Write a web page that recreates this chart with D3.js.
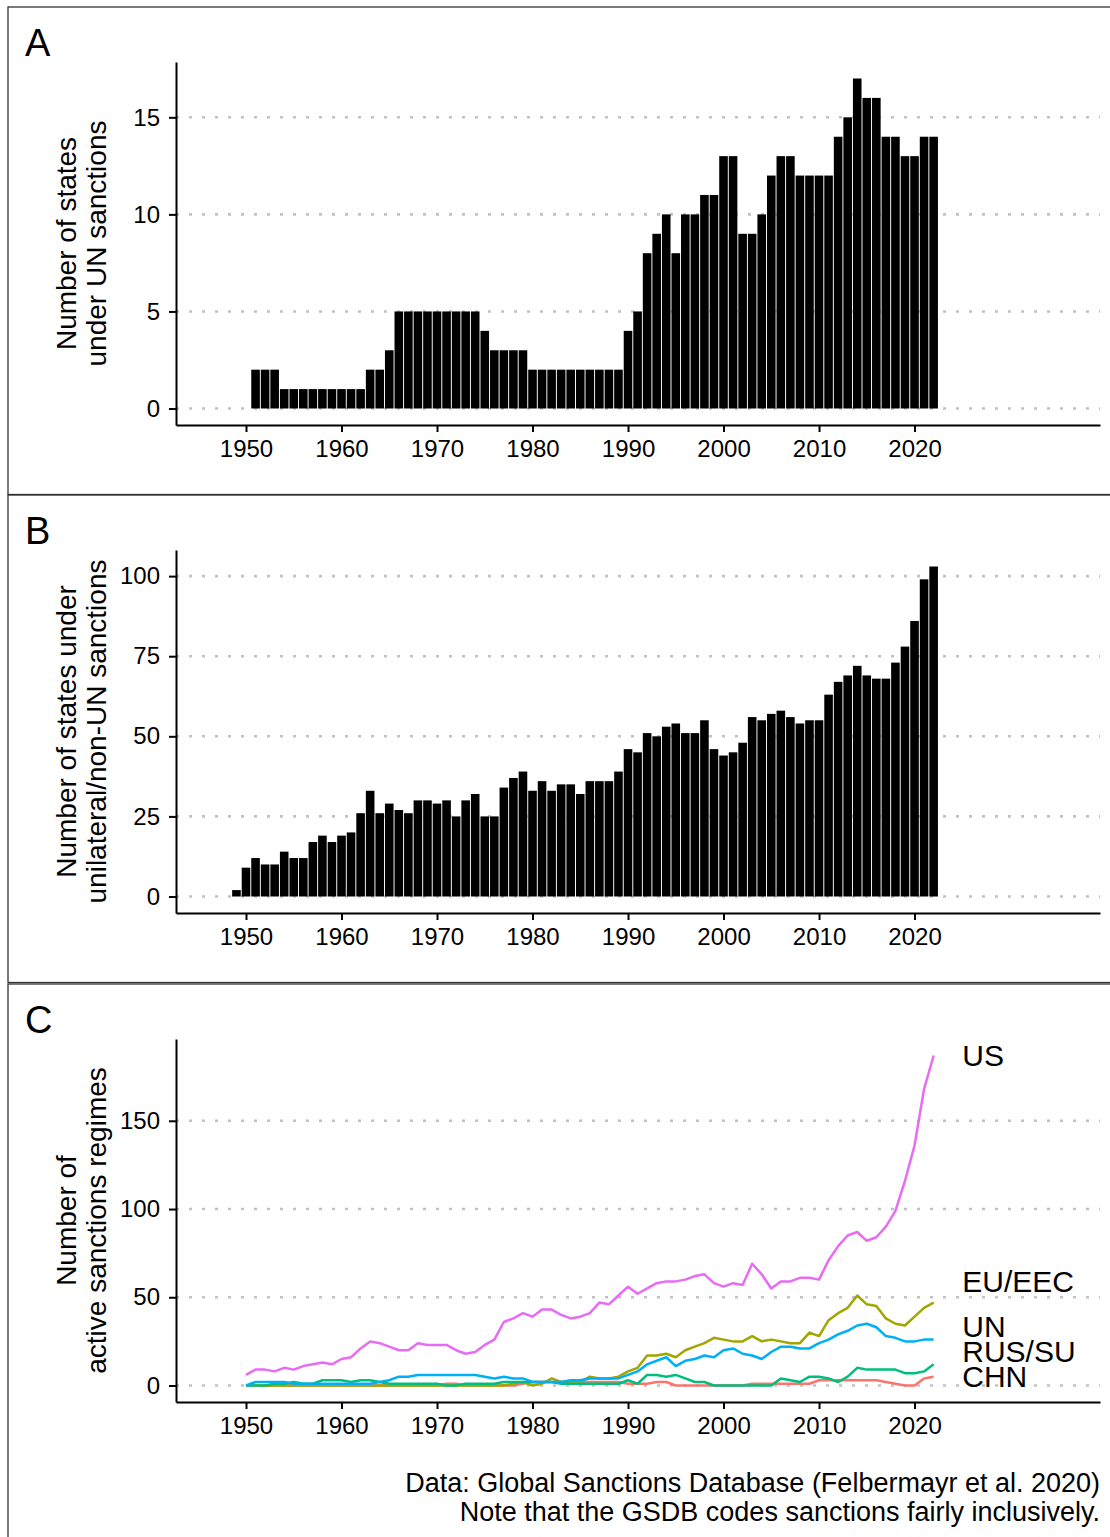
<!DOCTYPE html>
<html>
<head>
<meta charset="utf-8">
<script src="https://cdn.jsdelivr.net/npm/d3@7/dist/d3.min.js"></script>
<style>
  body { margin: 0; background: #fff; }
  text { font-family: "Liberation Sans", Arial, Helvetica, sans-serif; }
</style>
</head>
<body>
<div id="chart"></div>
<script>
// --- data ---------------------------------------------------------------
var yearTicks = [1950, 1960, 1970, 1980, 1990, 2000, 2010, 2020];

// A: states under UN sanctions, from 1951
var firstYearA = 1951;
var unStates = [
  2, 2, 2, 1, 1, 1, 1, 1, 1, 1, 1, 1, 2, 2, 3, 5, 5, 5, 5, 5,
  5, 5, 5, 5, 4, 3, 3, 3, 3, 2, 2, 2, 2, 2, 2, 2, 2, 2, 2, 4,
  5, 8, 9, 10, 8, 10, 10, 11, 11, 13, 13, 9, 9, 10, 12, 13, 13, 12, 12, 12,
  12, 14, 15, 17, 16, 16, 14, 14, 13, 13, 14, 14
];
var ticksA = [0, 5, 10, 15];

// B: states under unilateral / non-UN sanctions, from 1949
var firstYearB = 1949;
var otherStates = [
  2, 9, 12, 10, 10, 14, 12, 12, 17, 19, 17, 19, 20, 26, 33, 26, 29, 27, 26, 30,
  30, 29, 30, 25, 30, 32, 25, 25, 34, 37, 39, 33, 36, 33, 35, 35, 32, 36, 36, 36,
  39, 46, 45, 51, 50, 53, 54, 51, 51, 55, 46, 44, 45, 48, 56, 55, 57, 58, 56, 54,
  55, 55, 63, 67, 69, 72, 69, 68, 68, 73, 78, 86, 99, 103
];
var ticksB = [0, 25, 50, 75, 100];

// C: active sanctions regimes by sender, from 1950
var firstYearC = 1950;
var senders = ["CHN", "EU/EEC", "RUS/SU", "UN", "US"];
var senderColors = ["#F8766D", "#A3A500", "#00BF7D", "#00B0F6", "#E76BF3"];
var regimesCHN = [
  0, 0, 0, 0, 0, 0, 0, 0, 0, 0,
  0, 0, 0, 0, 0, 0, 0, 0, 0, 0,
  0, 1, 1, 0, 0, 0, 0, 0, 0, 1,
  2, 2, 2, 2, 2, 2, 2, 2, 2, 2,
  1, 1, 1, 2, 2, 0, 0, 0, 0, 0,
  0, 0, 0, 1, 1, 1, 1, 1, 1, 1,
  3, 3, 3, 3, 3, 3, 3, 2, 1, 0,
  0, 4, 5
];
var regimesEU = [
  0, 0, 0, 0, 0, 0, 0, 0, 0, 0,
  0, 0, 0, 0, 0, 0, 0, 0, 0, 0,
  0, 0, 0, 0, 0, 0, 0, 0, 1, 2,
  0, 1, 4, 2, 2, 2, 5, 4, 4, 5,
  8, 10, 17, 17, 18, 16, 20, 22, 24, 27,
  26, 25, 25, 28, 25, 26, 25, 24, 24, 30,
  28, 37, 41, 44, 51, 46, 45, 38, 35, 34,
  39, 44, 47
];
var regimesRUS = [
  0, 0, 0, 1, 1, 2, 1, 1, 3, 3,
  3, 2, 3, 3, 2, 1, 1, 1, 1, 1,
  1, 0, 0, 1, 1, 1, 1, 2, 2, 2,
  2, 2, 2, 1, 1, 1, 1, 1, 1, 1,
  3, 1, 6, 6, 5, 6, 4, 2, 2, 0,
  0, 0, 0, 0, 0, 0, 4, 3, 2, 5,
  5, 4, 2, 5, 10, 9, 9, 9, 9, 7,
  7, 8, 12
];
var regimesUN = [
  0, 2, 2, 2, 2, 1, 1, 1, 1, 1,
  1, 1, 1, 1, 2, 3, 5, 5, 6, 6,
  6, 6, 6, 6, 6, 5, 4, 5, 4, 4,
  2, 2, 2, 2, 3, 3, 4, 4, 4, 4,
  6, 8, 12, 14, 16, 11, 14, 15, 17, 16,
  20, 21, 18, 17, 15, 19, 22, 22, 21, 21,
  24, 26, 29, 31, 34, 35, 33, 28, 27, 25,
  25, 26, 26
];
var regimesUS = [
  6, 9, 9, 8, 10, 9, 11, 12, 13, 12,
  15, 16, 21, 25, 24, 22, 20, 20, 24, 23,
  23, 23, 20, 18, 19, 23, 26, 36, 38, 41,
  39, 43, 43, 40, 38, 39, 41, 47, 46, 51,
  56, 52, 55, 58, 59, 59, 60, 62, 63, 58,
  56, 58, 57, 69, 63, 55, 59, 59, 61, 61,
  60, 71, 79, 85, 87, 82, 84, 90, 99, 116,
  136, 168, 187
];
var ticksC = [0, 50, 100, 150];

// --- layout -------------------------------------------------------------
var width = 1110, height = 1537;
var plotLeft = 176, plotRight = 1100, plotHeight = 363;
var panelTops = [7, 495, 984];
var plotOffset = 55;

var svg = d3.select("#chart").append("svg")
    .attr("width", width)
    .attr("height", height)
    .style("display", "block");

svg.append("rect").attr("width", width).attr("height", height).attr("fill", "#fff");

var x = d3.scaleLinear()
    .domain([1942.67, 2039.42])
    .range([plotLeft, plotRight]);

function padded(maxValue) {
  return [-0.05 * maxValue, 1.05 * maxValue];
}

function drawPanel(i, letter, titleLines, yTicks, maxValue) {
  var top = panelTops[i];
  var g = svg.append("g").attr("class", "panel");

  g.append("rect")
      .attr("x", 8)
      .attr("y", top)
      .attr("width", width + 10)
      .attr("height", i < 2 ? 487.5 : height)
      .attr("fill", "none")
      .attr("stroke", "#333")
      .attr("stroke-width", 1.3);

  g.append("text")
      .attr("x", 25)
      .attr("y", top + 49)
      .style("font-size", "38px")
      .text(letter);

  var y0 = top + plotOffset;
  var y = d3.scaleLinear()
      .domain(padded(maxValue))
      .range([y0 + plotHeight, y0]);

  // dotted grid
  g.append("g").selectAll("line")
      .data(yTicks)
    .enter().append("line")
      .attr("x1", plotLeft)
      .attr("x2", plotRight)
      .attr("y1", function(d) { return y(d); })
      .attr("y2", function(d) { return y(d); })
      .attr("stroke", "#c2c2c2")
      .attr("stroke-width", 2.6)
      .attr("stroke-dasharray", "3 10");

  // axis title
  var tg = g.append("text")
      .attr("transform", "translate(76," + (y0 + plotHeight / 2) + ") rotate(-90)")
      .attr("text-anchor", "middle")
      .style("font-size", "28px");
  titleLines.forEach(function(t, k) {
    tg.append("tspan")
        .attr("x", 0)
        .attr("dy", k === 0 ? 0 : 30)
        .text(t);
  });

  return { g: g, y: y, y0: y0 };
}

function drawAxes(p) {
  var yAxis = d3.axisLeft(p.y)
      .tickValues(p.ticks)
      .tickSize(7)
      .tickSizeOuter(0)
      .tickPadding(9);
  var xAxis = d3.axisBottom(x)
      .tickValues(yearTicks)
      .tickFormat(d3.format("d"))
      .tickSize(7)
      .tickSizeOuter(0)
      .tickPadding(8);

  var ya = p.g.append("g")
      .attr("transform", "translate(" + plotLeft + ",0)")
      .call(yAxis);
  var xa = p.g.append("g")
      .attr("transform", "translate(0," + (p.y0 + plotHeight) + ")")
      .call(xAxis);

  [ya, xa].forEach(function(a) {
    a.select(".domain").attr("stroke", "#000").attr("stroke-width", 2);
    a.selectAll(".tick line").attr("stroke", "#000").attr("stroke-width", 2);
    a.selectAll(".tick text")
        .attr("fill", "#000")
        .style("font-size", "24px")
        .style("font-family", "'Liberation Sans', Arial, sans-serif");
  });
}

function drawBars(p, firstYear, values) {
  var bw = (x(1) - x(0)) * 0.9;
  p.g.append("g").selectAll("rect")
      .data(values)
    .enter().append("rect")
      .attr("x", function(d, k) { return x(firstYear + k) - bw / 2; })
      .attr("width", bw)
      .attr("y", function(d) { return p.y(d); })
      .attr("height", function(d) { return p.y(0) - p.y(d); })
      .attr("fill", "#000");
}

// Panel A
var pA = drawPanel(0, "A", ["Number of states", "under UN sanctions"], ticksA, d3.max(unStates));
pA.ticks = ticksA;
drawBars(pA, firstYearA, unStates);
drawAxes(pA);

// Panel B
var pB = drawPanel(1, "B", ["Number of states under", "unilateral/non-UN sanctions"], ticksB, d3.max(otherStates));
pB.ticks = ticksB;
drawBars(pB, firstYearB, otherStates);
drawAxes(pB);

// Panel C
var seriesC = [regimesCHN, regimesEU, regimesRUS, regimesUN, regimesUS];
var maxC = d3.max(seriesC, function(s) { return d3.max(s); });
var pC = drawPanel(2, "C", ["Number of", "active sanctions regimes"], ticksC, maxC);
pC.ticks = ticksC;

var line = d3.line()
    .x(function(d, k) { return x(firstYearC + k); })
    .y(function(d) { return pC.y(d); });

pC.g.append("g").selectAll("path")
    .data(seriesC)
  .enter().append("path")
    .attr("d", line)
    .attr("fill", "none")
    .attr("stroke", function(d, k) { return senderColors[k]; })
    .attr("stroke-width", 2.5)
    .attr("stroke-linejoin", "round");

// end labels, pushed apart from the bottom up
var lastYear = firstYearC + regimesUS.length - 1;
var labelNudge = { "EU/EEC": -20 };
var labels = senders.map(function(s, k) {
  return { name: s, y: pC.y(seriesC[k][seriesC[k].length - 1]) };
}).sort(function(a, b) { return b.y - a.y; });
for (var k = 1; k < labels.length; k++) {
  labels[k].y = Math.min(labels[k].y, labels[k - 1].y - 25);
}
labels.forEach(function(l) { l.y += labelNudge[l.name] || 0; });

pC.g.append("g").selectAll("text")
    .data(labels)
  .enter().append("text")
    .attr("x", x(lastYear + 3))
    .attr("y", function(d) { return d.y; })
    .attr("dy", "0.36em")
    .style("font-size", "30px")
    .text(function(d) { return d.name; });

drawAxes(pC);

// caption
var cap = svg.append("text")
    .attr("text-anchor", "end")
    .style("font-size", "27px");
cap.append("tspan").attr("x", 1100).attr("y", 1492)
    .text("Data: Global Sanctions Database (Felbermayr et al. 2020)");
cap.append("tspan").attr("x", 1100).attr("y", 1521)
    .text("Note that the GSDB codes sanctions fairly inclusively.");
</script>
</body>
</html>
